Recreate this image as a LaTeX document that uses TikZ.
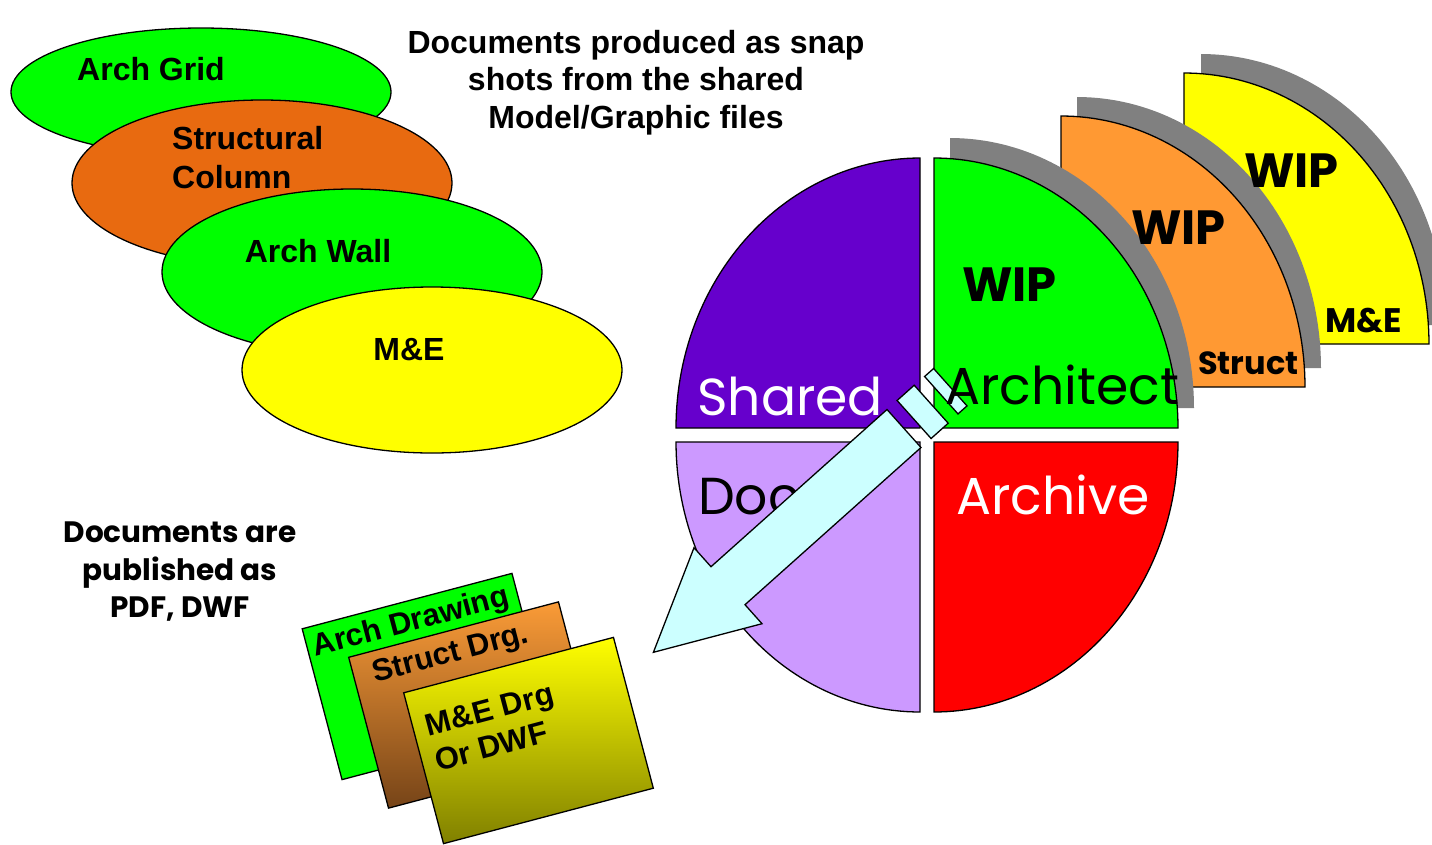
\documentclass[tikz,border=0pt]{standalone}
\usepackage{fontspec}
\setmainfont{Liberation Sans}
\newfontfamily\gothic{Poppins}
\usetikzlibrary{shapes.geometric}
\definecolor{limec}{RGB}{0,255,0}
\definecolor{orell}{RGB}{232,106,16}
\definecolor{yelc}{RGB}{255,255,0}
\definecolor{purpc}{RGB}{102,0,204}
\definecolor{lilacc}{RGB}{204,153,255}
\definecolor{redc}{RGB}{255,0,0}
\definecolor{orac}{RGB}{255,153,51}
\definecolor{shadowc}{RGB}{128,128,128}
\definecolor{cyanc}{RGB}{204,255,255}
\definecolor{cardora}{RGB}{250,155,55}
\definecolor{cardbrown}{RGB}{118,68,24}
\definecolor{olivec}{RGB}{128,128,0}
\begin{document}
\begin{tikzpicture}[x=1pt,y=-1pt,
  blob/.style={ellipse, draw=black, line width=1.3pt, inner sep=0pt, minimum width=380pt},
  lbl/.style={font=\bfseries\fontsize{32}{39}\selectfont, inner sep=0pt},
  quad/.style={draw=black, line width=1.3pt},
  shadowq/.style={fill=shadowc, draw=none},
  card/.style={draw=black, line width=1.3pt, minimum width=217pt, minimum height=156pt, inner sep=0pt, rotate=14.8},
  cardtext/.style={font=\bfseries\fontsize{31}{36}\selectfont, inner sep=0pt, rotate=14.8},
  bigthin/.style={font=\gothic\fontsize{52}{60}\selectfont, inner sep=0pt},
  wip/.style={font=\gothic\bfseries\fontsize{48}{56}\selectfont, inner sep=0pt},
  smallwip/.style={font=\gothic\bfseries\fontsize{#1}{40}\selectfont, inner sep=0pt},
  pen/.style={fill=cyanc, draw=black, line width=1.3pt, line join=miter}
]
\useasboundingbox (0,0) rectangle (1432,844);

% ---------- layer ellipses ----------
\node[blob, fill=limec, minimum height=128pt] (grid) at (201,92) {};
\node[blob, fill=orell, minimum height=166pt] (col) at (262,183) {};
\node[blob, fill=limec, minimum height=166pt] (wall) at (352,272) {};
\node[blob, fill=yelc, minimum height=166pt] (me) at (432,370) {};
\node[lbl, anchor=base] (tgrid) at (151,80) {Arch Grid};
\node[lbl, anchor=north west, align=left] (tcol) at (172,126) {Structural\\Column};
\node[lbl, anchor=base] (twall) at (318,262) {Arch Wall};
\node[lbl, anchor=base] (tme) at (409,360) {M\&E};

% ---------- captions ----------
\node[font=\bfseries\fontsize{32}{37.5}\selectfont, align=center, anchor=north, inner sep=0pt] (topcap) at (636,30)
  {Documents produced as snap\\shots from the shared\\Model/Graphic files};
\node[font=\gothic\bfseries\fontsize{29.5}{37.5}\selectfont, align=center, anchor=north, inner sep=0pt] (pubcap) at (180,522)
  {Documents are\\published as\\PDF, DWF};

% ---------- published drawings ----------
\node[card, fill=limec] (c1) at (427,676.5) {};
\node[cardtext] (tc1) at (411,623) {Arch Drawing};
\node[card, top color=cardora, bottom color=cardbrown] (c2) at (473.5,705) {};
\node[cardtext] (tc2) at (451,655) {Struct Drg.};
\node[card, top color=yelc, bottom color=olivec] (c3) at (528.5,740.5) {};
\node[cardtext, align=left] (tc3) at (494,727) {M\&E Drg\\Or DWF};

% ---------- WIP stack ----------
\fill[shadowq] (1201,325) -- plot[domain=270:360,samples=60] ({1201+245*cos(\x)},{325+271*sin(\x)}) -- cycle;
\draw[quad, fill=yelc] (1184,344) -- plot[domain=270:360,samples=60] ({1184+245*cos(\x)},{344+271*sin(\x)}) -- cycle;
\fill[shadowq] (1077,368) -- plot[domain=270:360,samples=60] ({1077+244*cos(\x)},{368+271*sin(\x)}) -- cycle;
\draw[quad, fill=orac] (1061,387) -- plot[domain=270:360,samples=60] ({1061+244*cos(\x)},{387+271*sin(\x)}) -- cycle;
\fill[shadowq] (950,408) -- plot[domain=270:360,samples=60] ({950+244*cos(\x)},{408+270*sin(\x)}) -- cycle;
\node[wip, anchor=base west] (wip3) at (1244,187) {WIP};
\node[smallwip=34, anchor=base west] (sme) at (1325,332) {M\&E};
\node[wip, anchor=base west] (wip2) at (1131,244) {WIP};
\node[smallwip=32, anchor=base west] (sst) at (1198,374) {Struct};

% ---------- main quadrants ----------
\draw[quad, fill=purpc] (920,428) -- plot[domain=180:270,samples=60] ({920+244*cos(\x)},{428+270*sin(\x)}) -- cycle;
\draw[quad, fill=limec] (934,428) -- plot[domain=270:360,samples=60] ({934+244*cos(\x)},{428+270*sin(\x)}) -- cycle;
\draw[quad, fill=redc] (934,442) -- plot[domain=0:90,samples=60] ({934+244*cos(\x)},{442+270*sin(\x)}) -- cycle;
\draw[quad, fill=lilacc] (920,442) -- plot[domain=90:180,samples=60] ({920+244*cos(\x)},{442+270*sin(\x)}) -- cycle;
\node[wip, anchor=base west] (wip1) at (962,301) {WIP};
\node[bigthin, anchor=base west, text=white] (shared) at (697,415) {Shared};
\node[bigthin, anchor=base west, text=white] (archive) at (956,514) {Archive};
\node[bigthin, anchor=base west] (doc) at (698,514) {Doc};

% ---------- publishing arrow ----------
\draw[pen] (887,409.5) -- (921,447.5) -- (745,604.7) -- (762,623.7) -- (653.4,652.3)
  -- (694,547.7) -- (711,566.7) -- cycle;
\draw[pen] (897.1,400.5) -- (914.2,385.2) -- (948.2,423.2) -- (931.1,438.5) -- cycle;
\draw[pen] (924.6,376.5) -- (933.6,368.5) -- (967,405.9) -- (958,413.9) -- cycle;

\node[bigthin, anchor=base west] (arch) at (945,404) {Architect};
\end{tikzpicture}
\end{document}
